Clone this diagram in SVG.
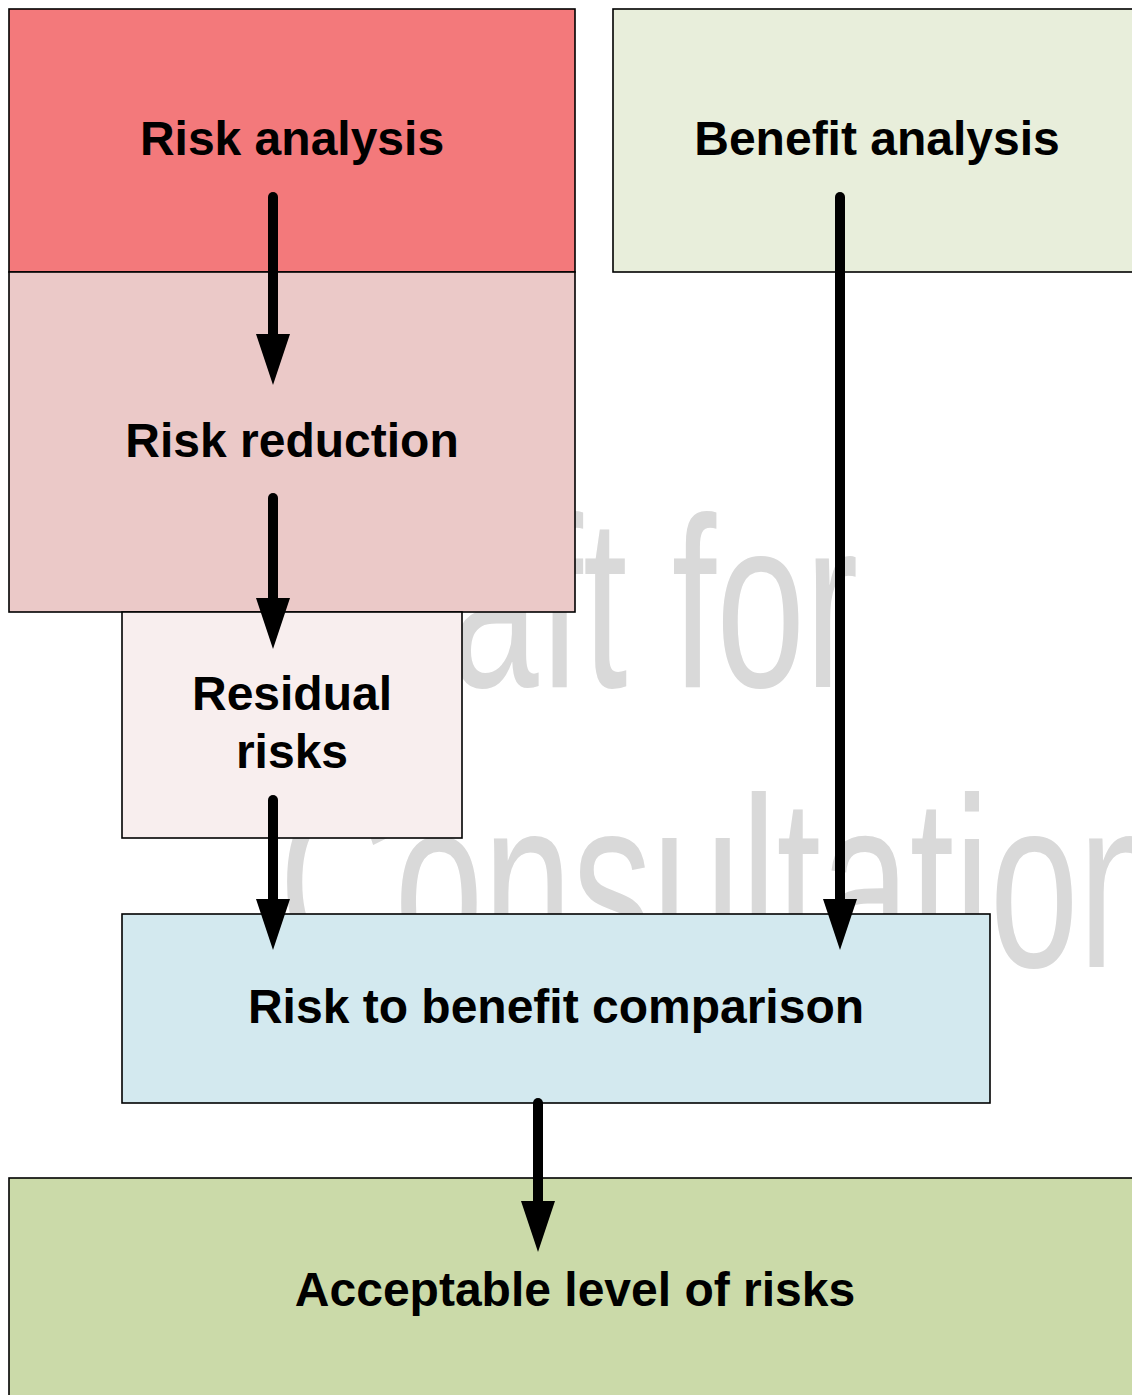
<svg xmlns="http://www.w3.org/2000/svg" width="1132" height="1395" viewBox="0 0 1132 1395">
  <style>
    .box { stroke: #000; stroke-width: 1.6; }
    .label { font-family: "Liberation Sans", Arial, sans-serif; font-weight: bold; font-size: 48px; fill: #000; text-anchor: middle; }
    .wm { font-family: "Liberation Sans", Arial, sans-serif; font-size: 244px; fill: #d9d9d9; }
    .conn { fill: none; stroke: #000; stroke-width: 10; stroke-linecap: round; }
  </style>
  <defs>
    <marker id="head" markerUnits="userSpaceOnUse" markerWidth="52" markerHeight="36" viewBox="0 -18 52 36" refX="0" refY="0" orient="auto" overflow="visible">
      <path d="M0,-17 L51,0 L0,17 Z" fill="#000"/>
    </marker>
  </defs>
  <rect width="1132" height="1395" fill="#fff"/>

  <!-- watermark, behind the boxes -->
  <g id="watermark">
    <text class="wm" transform="translate(281,687) scale(0.655,1)">Draft for</text>
    <text class="wm" transform="translate(279,967) scale(0.655,1)">Consultation</text>
  </g>

  <g id="risk-analysis">
    <rect class="box" x="9" y="9" width="566" height="263" fill="#f3797b"/>
    <text class="label" x="292" y="155">Risk analysis</text>
  </g>
  <g id="risk-reduction">
    <rect class="box" x="9" y="272" width="566" height="340" fill="#ebc9c8"/>
    <text class="label" x="292" y="457">Risk reduction</text>
  </g>
  <g id="residual-risks">
    <rect class="box" x="122" y="612" width="340" height="226" fill="#f8eeee"/>
    <text class="label" x="292" y="710">Residual</text>
    <text class="label" x="292" y="768">risks</text>
  </g>
  <g id="benefit-analysis">
    <rect class="box" x="613" y="9" width="530" height="263" fill="#e8eedb"/>
    <text class="label" x="877" y="155">Benefit analysis</text>
  </g>
  <g id="comparison">
    <rect class="box" x="122" y="914" width="868" height="189" fill="#d3e9ef"/>
    <text class="label" x="556" y="1023">Risk to benefit comparison</text>
  </g>
  <g id="acceptable">
    <rect class="box" x="9" y="1178" width="1134" height="230" fill="#cbdaa9"/>
    <text class="label" x="575" y="1306">Acceptable level of risks</text>
  </g>

  <g id="connectors">
    <path class="conn" d="M273,197 L273,334" marker-end="url(#head)"/>
    <path class="conn" d="M273,498 L273,598" marker-end="url(#head)"/>
    <path class="conn" d="M273,800 L273,899" marker-end="url(#head)"/>
    <path class="conn" d="M840,197 L840,899" marker-end="url(#head)"/>
    <path class="conn" d="M538,1103 L538,1201" marker-end="url(#head)"/>
  </g>
</svg>
